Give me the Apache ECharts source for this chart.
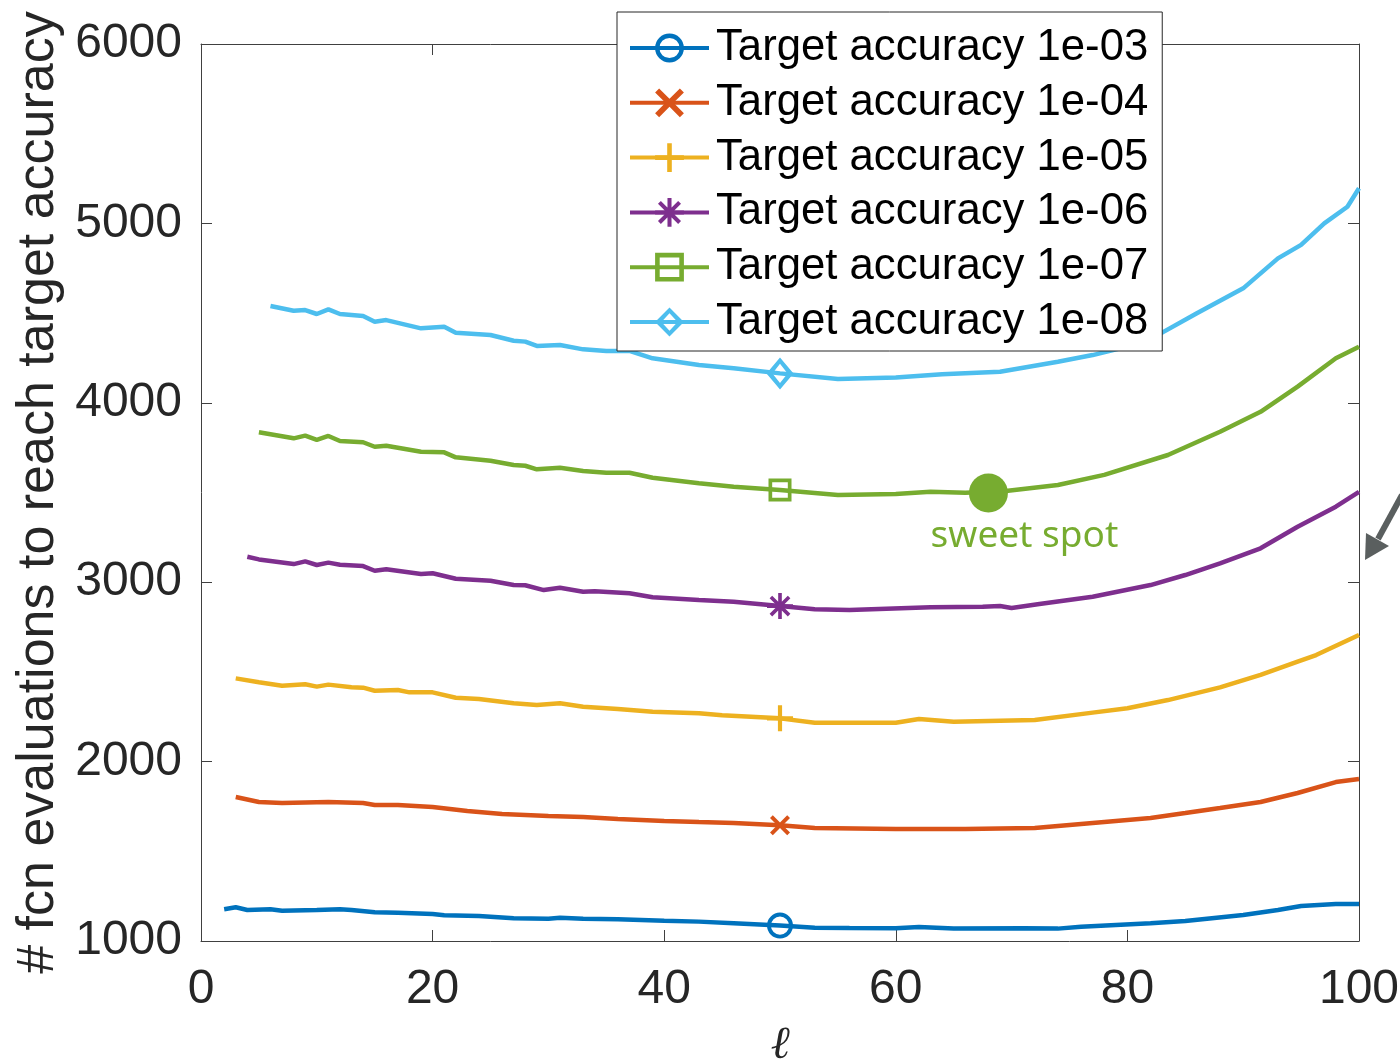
<!DOCTYPE html>
<html>
<head>
<meta charset="utf-8">
<script src="https://cdn.jsdelivr.net/npm/echarts@6/dist/echarts.min.js"></script>
<style>
html,body{margin:0;padding:0;background:#fff;}
#chart{width:1400px;height:1064px;}
</style>
</head>
<body>
<div id="chart"></div>
<script>
// ---- data ----
const seriesNames = [
  'Target accuracy 1e-03','Target accuracy 1e-04','Target accuracy 1e-05',
  'Target accuracy 1e-06','Target accuracy 1e-07','Target accuracy 1e-08'
];
const colors = ['#0072BD','#D95319','#EDB120','#7E2F8E','#77AC30','#4DBEEE'];

const x1e3 = [2,3,4,6,7,10,12,13,15,17,20,21,24,27,30,31,33,36,40,43,46,50,53,56,60,62,65,71,74,76,82,85,90,93,95,98,100];
const y1e3 = [1177,1188,1173,1177,1169,1173,1177,1173,1160,1158,1150,1143,1139,1127,1124,1130,1124,1121,1113,1108,1099,1086,1074,1072,1071,1078,1069,1071,1069,1080,1099,1111,1145,1173,1195,1206,1206];

const x1e4 = [3,5,7,11,14,15,17,20,23,26,30,33,36,40,43,46,50,53,60,66,72,77,82,85,88,91.5,94.7,98,100];
const y1e4 = [1803,1775,1769,1775,1769,1758,1758,1747,1725,1708,1697,1691,1680,1669,1663,1658,1645,1630,1624,1624,1630,1658,1686,1713,1741,1775,1825,1886,1903];

const x1e5 = [3,5,7,9,10,11,13,14,15,17,18,20,22,24,27,29,31,33,36,39,43,45,50,53,60,62,65,69,72,77,80,83.5,88,91.5,94.7,96.3,100];
const y1e5 = [2464,2442,2423,2431,2418,2429,2415,2412,2395,2399,2386,2386,2356,2349,2325,2316,2325,2306,2293,2278,2269,2258,2241,2217,2217,2237,2222,2228,2232,2273,2297,2343,2414,2483,2557,2594,2706];

const x1e6 = [4,5,8,9,10,11,12,14,15,16,19,20,22,25,27,28,29.6,31,33,34,37,39,43,46,50,53,56,63,67.5,69,70,72.4,77,82,85,88,91.5,94.7,98,100];
const y1e6 = [3142,3127,3101,3116,3096,3109,3097,3090,3064,3072,3046,3050,3019,3008,2984,2983,2956,2969,2947,2949,2938,2916,2901,2891,2867,2849,2845,2860,2863,2867,2856,2878,2919,2984,3040,3105,3189,3309,3421,3504];

const x1e7 = [5,8,9,10,11,12,14,15,16,19,21,22,25,27,28,29,31,33,35,37,39,43,46,50,55,60,63,66,69.5,74,78,83.5,88,91.5,94.7,98,100];
const y1e7 = [3836,3802,3817,3793,3815,3787,3780,3755,3761,3727,3724,3696,3677,3653,3649,3629,3638,3620,3610,3610,3582,3551,3532,3514,3486,3491,3504,3499,3508,3542,3598,3709,3839,3950,4090,4248,4313];

const x1e8 = [6,8,9,10,11,12,14,15,16,19,21,22,25,27,28,29,31,33,35,37,39,43,46,50,55,60,64,69,74,77,80,83,86,90,93,95,97,99,100];
const y1e8 = [4540,4513,4517,4495,4521,4495,4484,4452,4461,4415,4424,4391,4378,4346,4341,4317,4322,4298,4289,4289,4248,4211,4192,4164,4133,4141,4159,4173,4229,4266,4313,4391,4499,4638,4805,4880,5000,5093,5196];

const markerX = 50;
const sweetSpot = [68, 3497];
const sweetLabel = 'sweet spot';
const xName = 'ℓ';
const yName = '# fcn evaluations to reach target accuracy';

// ---- marker shapes (MATLAB-like) ----
const symRing = 'path://M0,50A50,50 0 1,1 100,50A50,50 0 1,1 0,50ZM15,50A35,35 0 1,0 85,50A35,35 0 1,0 15,50Z';
const symX = 'path://M0,14L14,0L50,36L86,0L100,14L64,50L100,86L86,100L50,64L14,100L0,86L36,50Z';
const symPlus = 'path://M42,0L58,0L58,42L100,42L100,58L58,58L58,100L42,100L42,58L0,58L0,42L42,42Z';
const symStar = 'path://M43,0L57,0L57,100L43,100ZM0,43L100,43L100,57L0,57ZM19.95,10.05L89.95,80.05L80.05,89.95L10.05,19.95ZM89.95,19.95L19.95,89.95L10.05,80.05L80.05,10.05Z';
const symSquare = 'path://M0,0L100,0L100,100L0,100ZM16,16L16,84L84,84L84,16Z';
const symDiamond = 'path://M50,0L100,50L50,100L0,50ZM50,20L22,50L50,80L78,50Z';

const symbols = [symRing, symX, symPlus, symStar, symSquare, symDiamond];
const symSizes = [[26,26],[20,20],[26,26],[26,26],[23,23],[27,32]];
const allX = [x1e3,x1e4,x1e5,x1e6,x1e7,x1e8];
const allY = [y1e3,y1e4,y1e5,y1e6,y1e7,y1e8];

const lineSeries = seriesNames.map((name, k) => ({
  name: name,
  type: 'line',
  xAxisIndex: 0, yAxisIndex: 0,
  symbol: symbols[k],
  symbolSize: symSizes[k],
  showAllSymbol: true,
  smooth: false,
  lineStyle: { color: colors[k], width: 4.5 },
  itemStyle: { color: colors[k], borderWidth: 0 },
  emphasis: { disabled: true },
  data: allX[k].map((x, i) => x === markerX ? [x, allY[k][i]] : { value: [x, allY[k][i]], symbol: 'none' }),
  z: 2 + k * 0.01
}));

const font = "'Liberation Sans', Arial, Helvetica, sans-serif";
const axisCol = '#404040';

const option = {
  animation: false,
  backgroundColor: '#ffffff',
  grid: { left: 201, right: 41, top: 44, bottom: 123, containLabel: false, outerBoundsMode: 'none' },
  xAxis: [
    {
      type: 'value', min: 0, max: 100, interval: 20, position: 'bottom',
      name: xName, nameLocation: 'middle', nameGap: 82,
      nameTextStyle: { fontFamily: "'DejaVu Serif', serif", fontStyle: 'italic', fontSize: 46, color: '#262626' },
      axisLine: { show: true, onZero: false, lineStyle: { color: axisCol, width: 1 } },
      axisTick: { show: true, inside: true, length: 11, lineStyle: { color: axisCol, width: 1 } },
      axisLabel: { show: true, fontFamily: font, fontSize: 48, color: '#262626', margin: 25 },
      splitLine: { show: false }
    },
    {
      type: 'value', min: 0, max: 100, interval: 20, position: 'top',
      axisLine: { show: true, onZero: false, lineStyle: { color: axisCol, width: 1 } },
      axisTick: { show: true, inside: true, length: 11, lineStyle: { color: axisCol, width: 1 } },
      axisLabel: { show: false },
      splitLine: { show: false }
    }
  ],
  yAxis: [
    {
      type: 'value', min: 1000, max: 6000, interval: 1000, position: 'left',
      name: yName, nameLocation: 'middle', nameGap: 104, nameRotate: 90,
      nameTextStyle: { fontFamily: font, fontSize: 52, color: '#262626' },
      axisLine: { show: true, onZero: false, lineStyle: { color: axisCol, width: 1 } },
      axisTick: { show: true, inside: true, length: 11, lineStyle: { color: axisCol, width: 1 } },
      axisLabel: { show: true, fontFamily: font, fontSize: 48, color: '#262626', margin: 19,
                   formatter: v => String(v) },
      splitLine: { show: false }
    },
    {
      type: 'value', min: 1000, max: 6000, interval: 1000, position: 'right',
      axisLine: { show: true, onZero: false, lineStyle: { color: axisCol, width: 1 } },
      axisTick: { show: true, inside: true, length: 11, lineStyle: { color: axisCol, width: 1 } },
      axisLabel: { show: false },
      splitLine: { show: false }
    }
  ],
  legend: {
    data: seriesNames,
    orient: 'vertical',
    left: 617, top: 12,
    padding: [14, 14, 7, 11],
    itemGap: 10.8,
    itemWidth: 79,
    itemHeight: 36,
    backgroundColor: '#ffffff',
    borderColor: '#262626',
    borderWidth: 1,
    borderRadius: 0,
    selectedMode: false,
    lineStyle: { width: 4 },
    textStyle: { fontFamily: font, fontSize: 43.7, color: '#000000', padding: [0, 0, 0, 2] }
  },
  series: lineSeries.concat([
    {
      name: 'sweet', type: 'scatter',
      xAxisIndex: 0, yAxisIndex: 0,
      symbol: 'circle', symbolSize: 39,
      itemStyle: { color: '#77AC30', opacity: 1 },
      emphasis: { disabled: true },
      label: {
        show: true, formatter: sweetLabel, position: 'bottom', distance: 5, offset: [36, 0],
        fontFamily: "'Noto Sans', 'Open Sans', sans-serif", fontSize: 37, color: '#77AC30'
      },
      data: [sweetSpot],
      z: 5
    }
  ]),
  graphic: [
    {
      type: 'line', z: 100,
      shape: { x1: 1402, y1: 495, x2: 1378, y2: 539 },
      style: { stroke: '#5a5f5f', lineWidth: 6 }
    },
    {
      type: 'polygon', z: 100,
      shape: { points: [[1365, 560], [1366, 533], [1389, 546]] },
      style: { fill: '#5a5f5f' }
    }
  ]
};

const chart = echarts.init(document.getElementById('chart'), null, { renderer: 'canvas' });
chart.setOption(option);
</script>
</body>
</html>
